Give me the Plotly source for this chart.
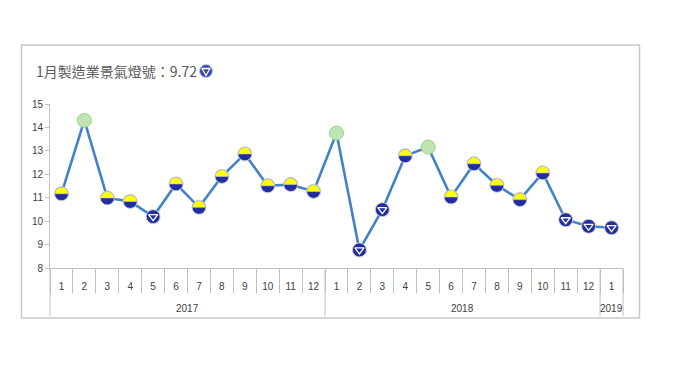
import plotly.graph_objects as go
import numpy as np

# ---------------- data ----------------
years = ["2017"] * 12 + ["2018"] * 12 + ["2019"]
months = [str(m) for m in range(1, 13)] * 2 + ["1"]
values = [11.17, 14.30, 10.99, 10.84, 10.19, 11.59, 10.59, 11.91, 12.87, 11.51, 11.56, 11.27,
          13.76, 8.77, 10.49, 12.79, 13.16, 11.03, 12.45, 11.53, 10.92, 12.06, 10.06, 9.78, 9.72]
# g = green (stable), yb = yellow-blue, b = blue
signals = ["yb", "g", "yb", "yb", "b", "yb", "yb", "yb", "yb", "yb", "yb", "yb",
           "g", "b", "b", "yb", "g", "yb", "yb", "yb", "yb", "yb", "b", "b", "b"]
y_ticks = [8, 9, 10, 11, 12, 13, 14, 15]
title_text = "1月製造業景氣燈號：9.72"

# ---------------- style ----------------
OFF = 8                      # page body margin
W, H = 680 - OFF, 383 - OFF
L, R, T, B = 42, 57, 96, 115
PW, PH = W - L - R, H - T - B
N = len(values)

LINE_C = "#4282C6"
BLUE = "#232E9C"
YELLOW = "#FFFF00"
GREEN = "#BFE6B2"
GREEN_EDGE = "#9ACF8A"
EDGE = "#C9CCE0"
AXIS_C = "#BFBFBF"
TXT_C = "#404040"
FONT = "Liberation Sans"


def px_x(p):
    """screen pixel -> paper x"""
    return (p - OFF - L) / PW


def px_y(p):
    """screen pixel -> paper y"""
    return (H - B - (p - OFF)) / PH


idx = list(range(N))
g_i = [i for i, s in enumerate(signals) if s == "g"]
b_i = [i for i, s in enumerate(signals) if s in ("b", "yb")]
t_i = [i for i, s in enumerate(signals) if s == "b"]
yb_i = [i for i, s in enumerate(signals) if s == "yb"]

fig = go.Figure()

fig.add_trace(go.Scatter(
    x=idx, y=values, mode="lines",
    line=dict(color=LINE_C, width=2.6), hoverinfo="skip", showlegend=False))
fig.add_trace(go.Scatter(
    x=g_i, y=[values[i] for i in g_i], mode="markers",
    marker=dict(symbol="circle", size=14, color=GREEN, line=dict(color=GREEN_EDGE, width=1)),
    showlegend=False, hoverinfo="skip"))
fig.add_trace(go.Scatter(
    x=b_i, y=[values[i] for i in b_i], mode="markers",
    marker=dict(symbol="circle", size=14, color=BLUE, line=dict(color=EDGE, width=1)),
    showlegend=False, hoverinfo="skip"))
fig.add_trace(go.Scatter(
    x=t_i, y=[values[i] for i in t_i], mode="markers",
    marker=dict(symbol="triangle-down-open", size=8, color="white", line=dict(color="white", width=1.3)),
    showlegend=False, hoverinfo="skip"))

# upper yellow half of yellow-blue markers
r = 6.4
th = np.linspace(0, np.pi, 19)
half = "M " + " L ".join(f"{r*np.cos(a):.2f},{r*np.sin(a):.2f}" for a in th) + " Z"
shapes = []
for i in yb_i:
    shapes.append(dict(type="path", xref="x", yref="y", xsizemode="pixel", ysizemode="pixel",
                       xanchor=i, yanchor=values[i], path=half,
                       fillcolor=YELLOW, line=dict(color=EDGE, width=0.6), layer="above"))

# year dividers (at group boundaries)
bounds = [0] + [i for i in range(1, N) if years[i] != years[i - 1]] + [N]
for b in bounds:
    shapes.append(dict(type="line", xref="paper", yref="paper",
                       x0=b / N, x1=b / N, y0=0, y1=px_y(316),
                       line=dict(color=AXIS_C, width=1)))

# outer frame
shapes.append(dict(type="rect", xref="paper", yref="paper",
                   x0=px_x(21.5), x1=px_x(639.5), y0=px_y(318), y1=px_y(45),
                   line=dict(color="#C8C8C8", width=1.5), fillcolor="rgba(0,0,0,0)", layer="below"))

# title icon (blue light)
icx, icy = px_x(206), px_y(71)
shapes.append(dict(type="circle", xref="paper", yref="paper", xsizemode="pixel", ysizemode="pixel",
                   xanchor=icx, yanchor=icy, x0=-6.5, x1=6.5, y0=-6.5, y1=6.5,
                   fillcolor="#3A45B0", line=dict(color=EDGE, width=1)))
shapes.append(dict(type="path", xref="paper", yref="paper", xsizemode="pixel", ysizemode="pixel",
                   xanchor=icx, yanchor=icy, path="M -4,2.5 L 4,2.5 L 0,-4.5 Z",
                   fillcolor="rgba(0,0,0,0)", line=dict(color="white", width=1.3)))

annotations = [dict(text=title_text, xref="paper", yref="paper", x=px_x(34), y=px_y(71),
                    xanchor="left", yanchor="middle", showarrow=False,
                    font=dict(family="Noto Sans CJK TC", size=14, color="#595959"))]
for a, b in zip(bounds[:-1], bounds[1:]):
    annotations.append(dict(text=years[a], xref="x", yref="paper", x=(a + b - 1) / 2, y=px_y(308),
                            xanchor="center", yanchor="middle", showarrow=False,
                            font=dict(family=FONT, size=10, color=TXT_C)))

fig.update_layout(
    width=W, height=H,
    margin=dict(l=L, r=R, t=T, b=B),
    paper_bgcolor="white", plot_bgcolor="white",
    showlegend=False,
    shapes=shapes,
    annotations=annotations,
    xaxis=dict(range=[-0.5, N - 0.5], tickmode="array", tickvals=idx, ticktext=months,
               ticks="", ticklabelstandoff=9,
               minor=dict(tickmode="array", tickvals=[i - 0.5 for i in range(N + 1)],
                          ticks="outside", ticklen=24, tickcolor=AXIS_C, tickwidth=1),
               showline=True, linecolor=AXIS_C, linewidth=1,
               showgrid=False, zeroline=False,
               tickfont=dict(family=FONT, size=10, color=TXT_C)),
    yaxis=dict(range=[8, 15], tickvals=y_ticks, ticktext=[str(v) for v in y_ticks],
               showline=True, linecolor=AXIS_C, linewidth=1,
               ticks="outside", ticklen=4, tickcolor=AXIS_C,
               showgrid=False, zeroline=False,
               tickfont=dict(family=FONT, size=10, color=TXT_C)),
)

fig.write_html("out.html")
